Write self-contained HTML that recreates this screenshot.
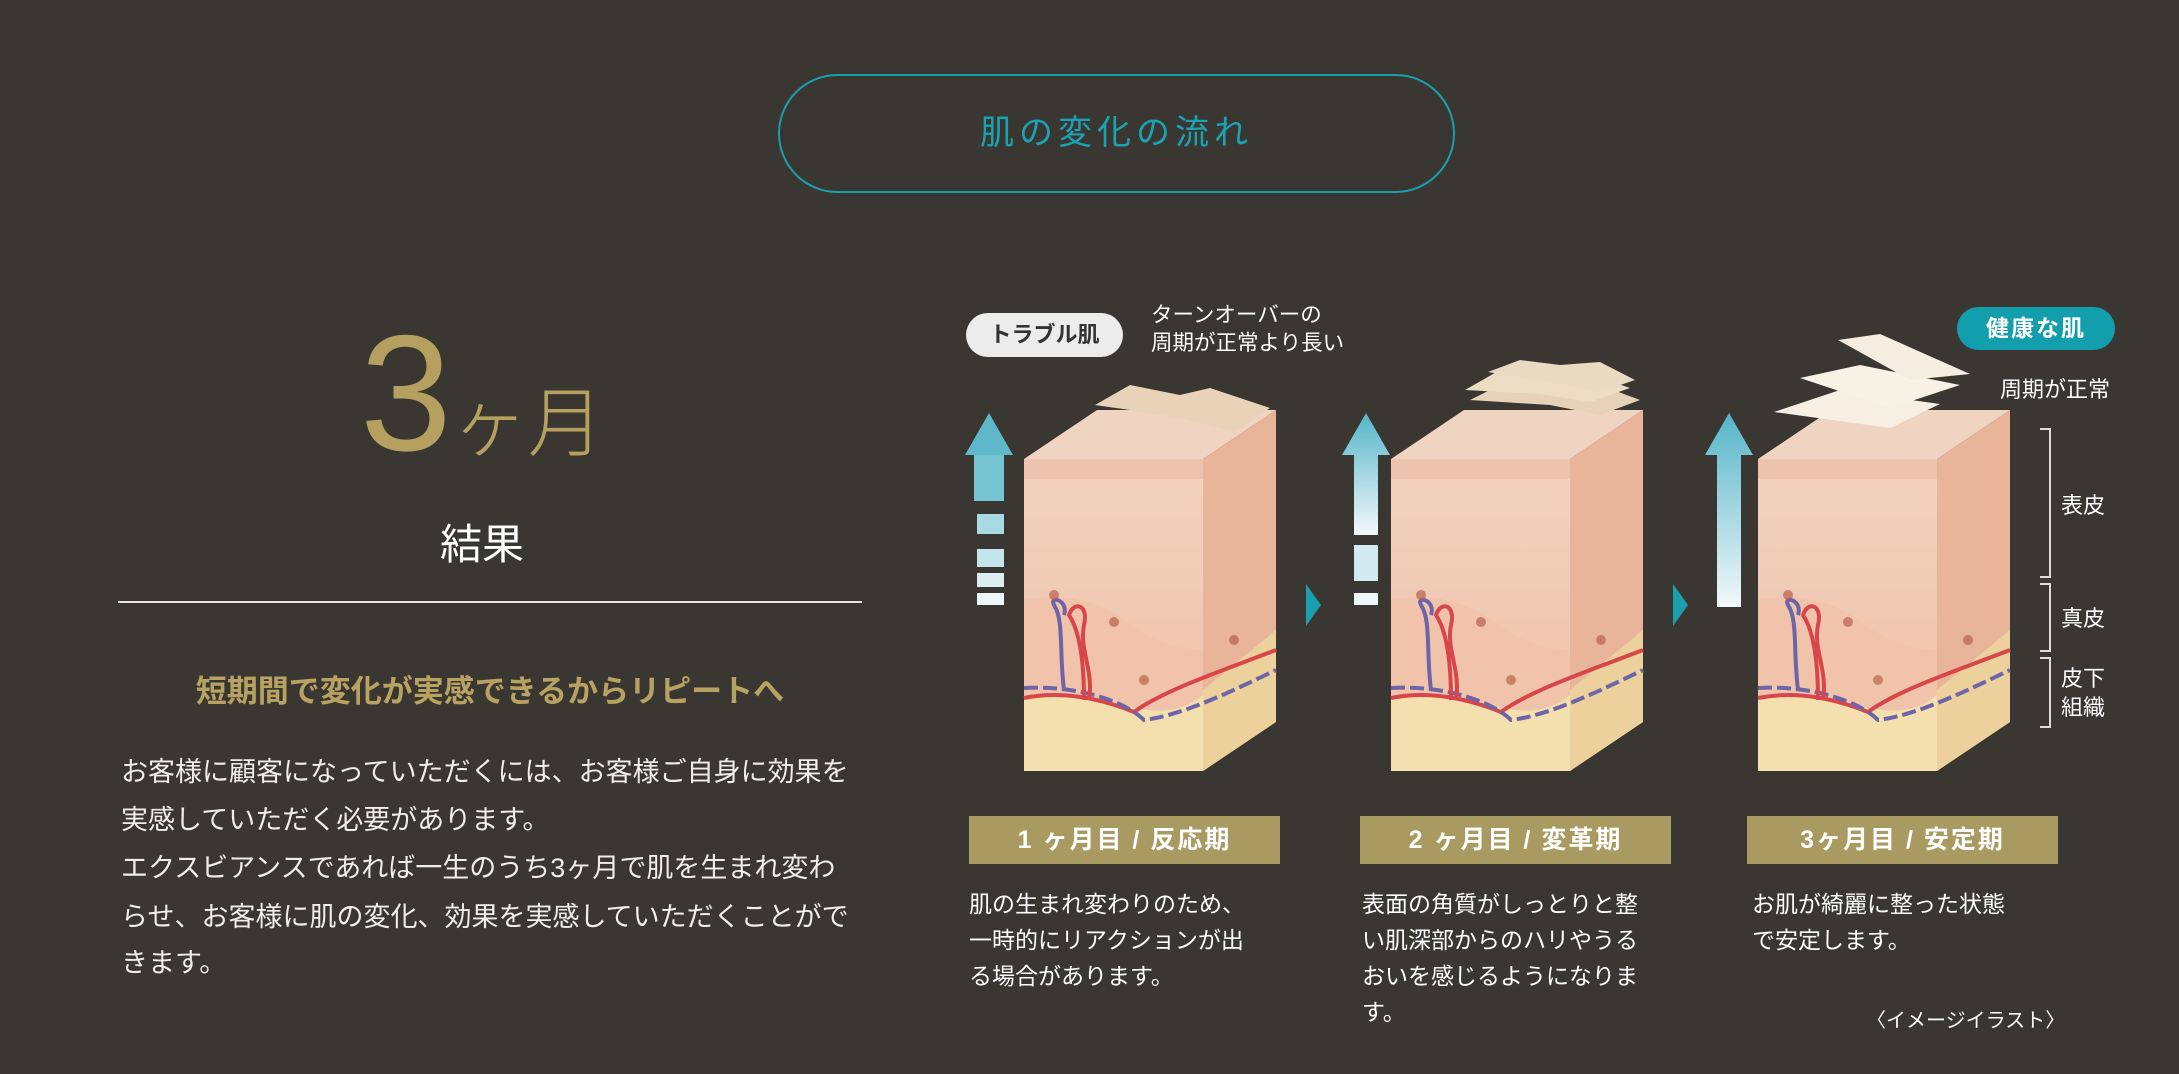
<!DOCTYPE html>
<html><head><meta charset="utf-8"><style>
html,body{margin:0;padding:0;}
body{width:2179px;height:1074px;background:#3a3631;position:relative;overflow:hidden;font-family:"Liberation Sans","Noto Sans CJK JP",sans-serif;color:#fff;}
.a{position:absolute;white-space:nowrap;}
.pill{position:absolute;left:778px;top:74px;width:677px;height:119px;border:2px solid #1a9fae;border-radius:60px;box-sizing:border-box;color:#1aa3b2;font-size:34px;letter-spacing:5px;text-align:center;line-height:115px;}
.bl{position:absolute;left:121px;font-size:27px;line-height:40px;color:#f0eeea;white-space:nowrap;}
.bar{position:absolute;top:816px;width:311px;height:48px;background:#a99a62;color:#fff;font-weight:bold;font-size:25px;text-align:center;line-height:48px;letter-spacing:2px;}
.desc{position:absolute;top:886px;font-size:23px;line-height:36px;color:#fff;}
</style></head><body>
<div class="pill">肌の変化の流れ</div>
<div class="a" style="left:360px;top:318px;font-size:165px;line-height:150px;color:#b5a060;font-weight:300;">3<span style="font-size:76px;">ヶ月</span></div>
<div class="a" style="left:440px;top:520px;font-size:42px;line-height:50px;">結果</div>
<div class="a" style="left:118px;top:601px;width:744px;height:2px;background:#e8e6e0;"></div>
<div class="a" style="left:118px;top:672px;width:744px;text-align:center;font-size:31px;font-weight:bold;color:#b7a262;line-height:40px;">短期間で変化が実感できるからリピートへ</div>
<div class="bl" style="top:752px;">お客様に顧客になっていただくには、お客様ご自身に効果を</div>
<div class="bl" style="top:800px;">実感していただく必要があります。</div>
<div class="bl" style="top:848px;">エクスビアンスであれば一生のうち3ヶ月で肌を生まれ変わ</div>
<div class="bl" style="top:897px;">らせ、お客様に肌の変化、効果を実感していただくことがで</div>
<div class="bl" style="top:943px;">きます。</div>

<svg class="a" style="left:0;top:0" width="2179" height="1074" viewBox="0 0 2179 1074">
<defs>
<linearGradient id="ar" x1="0" y1="0" x2="0" y2="1"><stop offset="0" stop-color="#55b5c8"/><stop offset="1" stop-color="#f2f8fb"/></linearGradient>
<linearGradient id="ep" x1="0" y1="0" x2="0" y2="1"><stop offset="0" stop-color="#f2d3c0"/><stop offset="1" stop-color="#eebfa6"/></linearGradient>
<g id="cube">
<polygon points="0,459 73,410 252,410 179,459" fill="#f0d4c2"/>
<rect x="0" y="459" width="179" height="312" fill="url(#ep)"/>
<rect x="0" y="459" width="179" height="20" fill="#e9b9a0" opacity="0.6"/>
<path d="M0,600 Q60,590 100,620 T179,650 L179,705 L0,705Z" fill="#f0c3aa"/>
<path d="M0,700 Q50,690 100,705 T179,695 L179,771 L0,771Z" fill="#f4e0ae"/>
<polygon points="179,459 252,410 252,722 179,771" fill="#e8b49a"/>
<polygon points="179,690 252,630 252,722 179,771" fill="#ecd19c"/>
<path d="M0,698 C40,690 80,700 110,712 C140,690 200,670 252,650" stroke="#d8464a" stroke-width="4" fill="none"/>
<path d="M0,688 C50,685 100,700 120,720 C160,715 210,690 252,670" stroke="#6e64a8" stroke-width="4" fill="none" stroke-dasharray="14,5"/>
<path d="M40,690 C35,650 40,620 30,605 C25,595 45,600 40,615" stroke="#6e64a8" stroke-width="4" fill="none"/>
<path d="M60,700 C60,660 55,630 45,615 C50,600 65,605 60,625 C55,650 70,670 65,700" stroke="#d8464a" stroke-width="4" fill="none"/>
<g fill="#b8624e" opacity="0.7"><circle cx="30" cy="595" r="5"/><circle cx="90" cy="622" r="5"/><circle cx="120" cy="680" r="5"/><circle cx="210" cy="640" r="5"/></g>
</g>
</defs>

<use href="#cube" transform="translate(1024,0)"/>
<polygon points="1095,405 1130,385 1180,395 1210,388 1270,408 1235,432 1180,418 1130,410" fill="#e8d3b9"/>
<use href="#cube" transform="translate(1391,0)"/>
<polygon points="1470,400 1510,380 1560,390 1600,385 1640,400 1600,415 1550,405" fill="#e6d2b8"/>
<polygon points="1465,390 1500,370 1550,378 1590,374 1630,388 1590,402 1540,394" fill="#ecdcc4"/>
<polygon points="1488,372 1520,360 1560,365 1600,362 1635,380 1600,392 1555,383" fill="#eadac2"/>
<use href="#cube" transform="translate(1758,0)"/>
<polygon points="1774,412 1840,390 1940,404 1890,428" fill="#f7efe4"/>
<polygon points="1800,378 1860,365 1960,385 1890,408" fill="#f8f1e6"/>
<polygon points="1838,340 1880,334 1970,374 1910,380" fill="#f5ede0"/>

<polygon points="989,413 1013,455 1004,455 1004,500 974,500 974,455 965,455" fill="#5eb8c9"/>
<rect x="974" y="455" width="30" height="46" fill="#76c3d2"/>
<rect x="977" y="514" width="27" height="20" fill="#a9d9e3"/>
<rect x="977" y="549" width="27" height="18" fill="#c5e5ec"/>
<rect x="977" y="573" width="27" height="14" fill="#dbeff3"/>
<rect x="977" y="593" width="27" height="12" fill="#eef7fa"/>
<polygon points="1366,413 1390,455 1378,455 1378,535 1354,535 1354,455 1342,455" fill="url(#ar)"/>
<rect x="1354" y="545" width="24" height="36" fill="#d2eaf0"/>
<rect x="1354" y="593" width="24" height="12" fill="#eef7fa"/>
<polygon points="1729,413 1753,455 1741,455 1741,607 1717,607 1717,455 1705,455" fill="url(#ar)"/>

<polygon points="1306,584 1321,605 1306,626" fill="#1a9fae"/>
<polygon points="1673,584 1688,605 1673,626" fill="#1a9fae"/>

<g stroke="#e0ddd6" stroke-width="2" fill="none">
<polyline points="2040,429 2050,429 2050,577 2040,577"/>
<polyline points="2040,584 2050,584 2050,651 2040,651"/>
<polyline points="2040,658 2050,658 2050,727 2040,727"/>
</g>
</svg>

<div class="a" style="left:966px;top:313px;width:157px;height:44px;border-radius:22px;background:#ececec;color:#333;font-size:22px;font-weight:bold;text-align:center;line-height:44px;">トラブル肌</div>
<div class="a" style="left:1151px;top:301px;font-size:21.5px;line-height:28px;">ターンオーバーの<br>周期が正常より長い</div>
<div class="a" style="left:1957px;top:307px;width:158px;height:43px;border-radius:22px;background:#129eac;color:#fff;font-size:23px;font-weight:bold;text-align:center;line-height:43px;letter-spacing:2px;">健康な肌</div>
<div class="a" style="left:2000px;top:372px;font-size:22px;">周期が正常</div>
<div class="a" style="left:2061px;top:488px;font-size:22px;">表皮</div>
<div class="a" style="left:2061px;top:601px;font-size:22px;">真皮</div>
<div class="a" style="left:2061px;top:664px;font-size:22px;line-height:29px;">皮下<br>組織</div>

<div class="bar" style="left:969px;">1 ヶ月目 / 反応期</div>
<div class="bar" style="left:1360px;">2 ヶ月目 / 変革期</div>
<div class="bar" style="left:1747px;">3ヶ月目 / 安定期</div>
<div class="desc" style="left:969px;">肌の生まれ変わりのため、<br>一時的にリアクションが出<br>る場合があります。</div>
<div class="desc" style="left:1362px;">表面の角質がしっとりと整<br>い肌深部からのハリやうる<br>おいを感じるようになりま<br>す。</div>
<div class="desc" style="left:1752px;">お肌が綺麗に整った状態<br>で安定します。</div>
<div class="a" style="left:1866px;top:1004px;font-size:20px;">〈イメージイラスト〉</div>
</body></html>
